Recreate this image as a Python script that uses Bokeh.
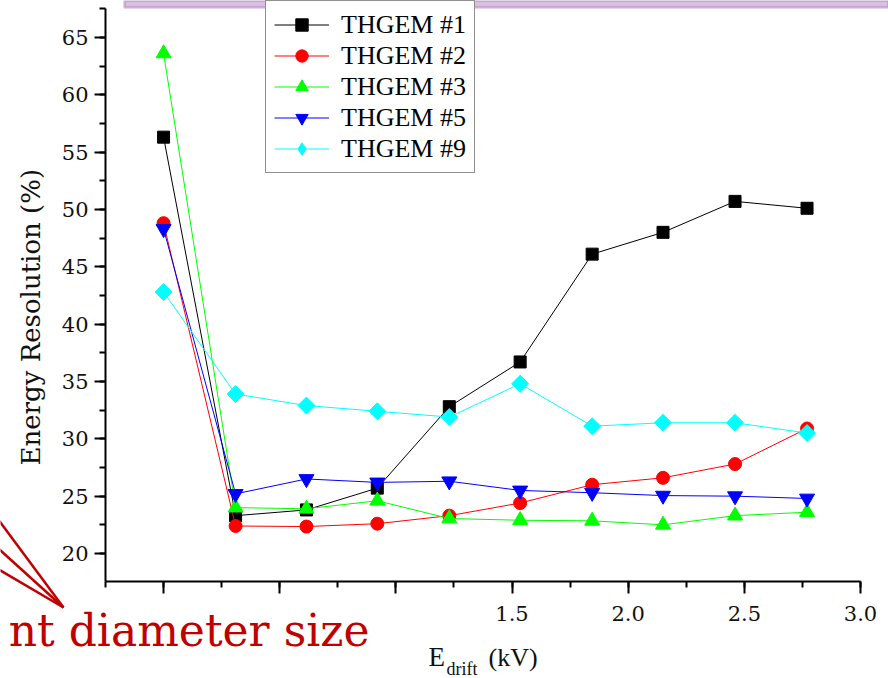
import math
from bokeh.plotting import figure
from bokeh.models import (Range1d, SingleIntervalTicker, Legend, LegendItem, Label,
                          BoxAnnotation, LinearAxis)
from bokeh.embed import file_html
from bokeh.resources import INLINE

# ---------------- data ----------------
e_drift = [0.0, 0.31, 0.615, 0.92, 1.23, 1.535, 1.845, 2.15, 2.46, 2.77]
thgem1 = [56.3, 23.3, 23.8, 25.7, 32.8, 36.7, 46.1, 48.0, 50.7, 50.1]
thgem2 = [48.8, 22.4, 22.35, 22.6, 23.3, 24.4, 26.0, 26.6, 27.8, 30.9]
thgem3 = [63.6, 24.0, 23.9, 24.6, 23.05, 22.9, 22.85, 22.5, 23.3, 23.6]
thgem5 = [48.3, 25.2, 26.5, 26.2, 26.3, 25.5, 25.3, 25.05, 25.0, 24.8]
thgem9 = [42.8, 33.9, 32.9, 32.4, 31.9, 34.8, 31.1, 31.4, 31.4, 30.5]
series_names = ["THGEM #1", "THGEM #2", "THGEM #3", "THGEM #5", "THGEM #9"]
x_tick_labels = {0: "", 0.5: "", 1: "", 1.5: "1.5", 2: "2.0", 2.5: "2.5", 3: "3.0"}
y_label = "Energy Resolution (%)"
x_label_main = "E"
x_label_sub = "drift"
x_label_unit = "(kV)"
note_text = "nt diameter size"

W, H = 888, 678
FL, FB = 105, 581            # axis corner (px from top-left)
PX_X = 232.3                 # px per kV
PX_Y = 11.47                 # px per %
XA0, XA1 = -0.25, 3.0        # drawn axis extent
YA0, YA1 = 17.56, 67.52

def xd(rx):
    return XA0 + (rx - FL) / PX_X

def yd(ry):
    return YA0 + (FB - ry) / PX_Y

p = figure(width=W, height=H, output_backend="svg", toolbar_location=None,
           x_range=Range1d(xd(0), xd(W)), y_range=Range1d(yd(H), yd(0)),
           x_axis_location=None, y_axis_location=None,
           min_border_left=0, min_border_right=0, min_border_top=0,
           min_border_bottom=0, title=None)
p.outline_line_color = None
p.grid.visible = False
p.background_fill_color = "white"
p.border_fill_color = "white"

styles = [
    (thgem1, "black", "square", 12, 0),
    (thgem2, "red", "circle", 13, 0),
    (thgem3, "#00ff00", "triangle", 15, 0),
    (thgem5, "blue", "inverted_triangle", 15, 0),
    (thgem9, "cyan", "square", 12, math.pi / 4),
]
items = []
for (ys, col, mk, sz, ang), name in zip(styles, series_names):
    l = p.line(e_drift, ys, line_color=col, line_width=1)
    s = p.scatter(e_drift, ys, marker=mk, size=sz, angle=ang,
                  fill_color=col, line_color=col)
    if ang:
        # legend swatch: diamond marker (legend glyphs ignore angle)
        s = p.scatter([float("nan")], [float("nan")], marker="diamond",
                      fill_color=col, line_color=col)
    items.append(LegendItem(label=name, renderers=[l, s]))

legend = Legend(items=items, location=(265, H - 173))
legend.label_text_font = "Liberation Serif"
legend.label_text_font_size = "26px"
legend.label_text_color = "black"
legend.glyph_width = 55
legend.glyph_height = 31
legend.label_height = 31
legend.label_standoff = 12
legend.padding = 8
legend.spacing = 0
legend.margin = 0
legend.border_line_color = "#222222"
legend.border_line_width = 1.5
legend.background_fill_alpha = 1
p.add_layout(legend)

# purple banner strip at the top
p.add_layout(BoxAnnotation(left=xd(124), bottom=yd(7),
                           fill_color="#d9bfe1", fill_alpha=1,
                           line_color="#8a4a9c", line_width=2.5, level="overlay"))

# axes, pinned at the data corner
xa = LinearAxis(fixed_location=YA0, bounds=(XA0, XA1),
                ticker=SingleIntervalTicker(interval=0.5, num_minor_ticks=2),
                major_label_overrides=x_tick_labels)
ya = LinearAxis(fixed_location=XA0, bounds=(YA0, YA1),
                ticker=SingleIntervalTicker(interval=5, num_minor_ticks=2))
for ax in (xa, ya):
    ax.axis_line_width = 2
    ax.axis_line_color = "black"
    ax.major_tick_line_width = 2
    ax.minor_tick_line_width = 2
    ax.major_tick_in = 0
    ax.minor_tick_in = 0
    ax.minor_tick_out = 6
    ax.major_label_text_font = "DejaVu Serif"
    ax.major_label_text_font_size = "21px"
    ax.major_label_text_color = "#111111"
xa.major_tick_out = 12
xa.major_label_standoff = 12
ya.major_tick_out = 11
ya.major_label_standoff = 6
p.add_layout(xa, "below")
p.add_layout(ya, "left")

def txt(x, y, text, font, size, color="#111111", align="left", angle=0.0):
    p.add_layout(Label(x=x, y=y, text=text, text_font=font,
                       text_font_size=f"{size}px", text_color=color, text_align=align,
                       text_baseline="top", angle=angle))

# axis titles (positions are the top edge of each text line)
txt(xd(39.5 - 0.93 * 26), yd(465), y_label, "DejaVu Serif", 26, angle=math.pi / 2)
txt(xd(428), yd(666 - 0.89 * 27), x_label_main, "Liberation Serif", 27)
txt(xd(446), yd(675 - 0.89 * 18), x_label_sub, "Liberation Serif", 18)
txt(xd(488), yd(666 - 0.89 * 26), x_label_unit, "Liberation Serif", 26)

# red slide annotation: text and pointer lines
red = "#c00000"
txt(xd(369), yd(645 - 0.93 * 44), note_text, "DejaVu Serif", 44, color=red, align="right")
tip_x, tip_y = 63, 607
starts_y = [522, 550, 570]
x0s, y0s, x1s, y1s = [], [], [], []
for sy in starts_y:
    slope = (tip_y - sy) / tip_x
    x0s.append(xd(-4)); y0s.append(yd(sy - 4 * slope))
    x1s.append(xd(tip_x)); y1s.append(yd(tip_y))
p.segment(x0s, y0s, x1s, y1s, line_color=red, line_width=2.5)

open("out.html", "w").write(file_html(p, INLINE))
